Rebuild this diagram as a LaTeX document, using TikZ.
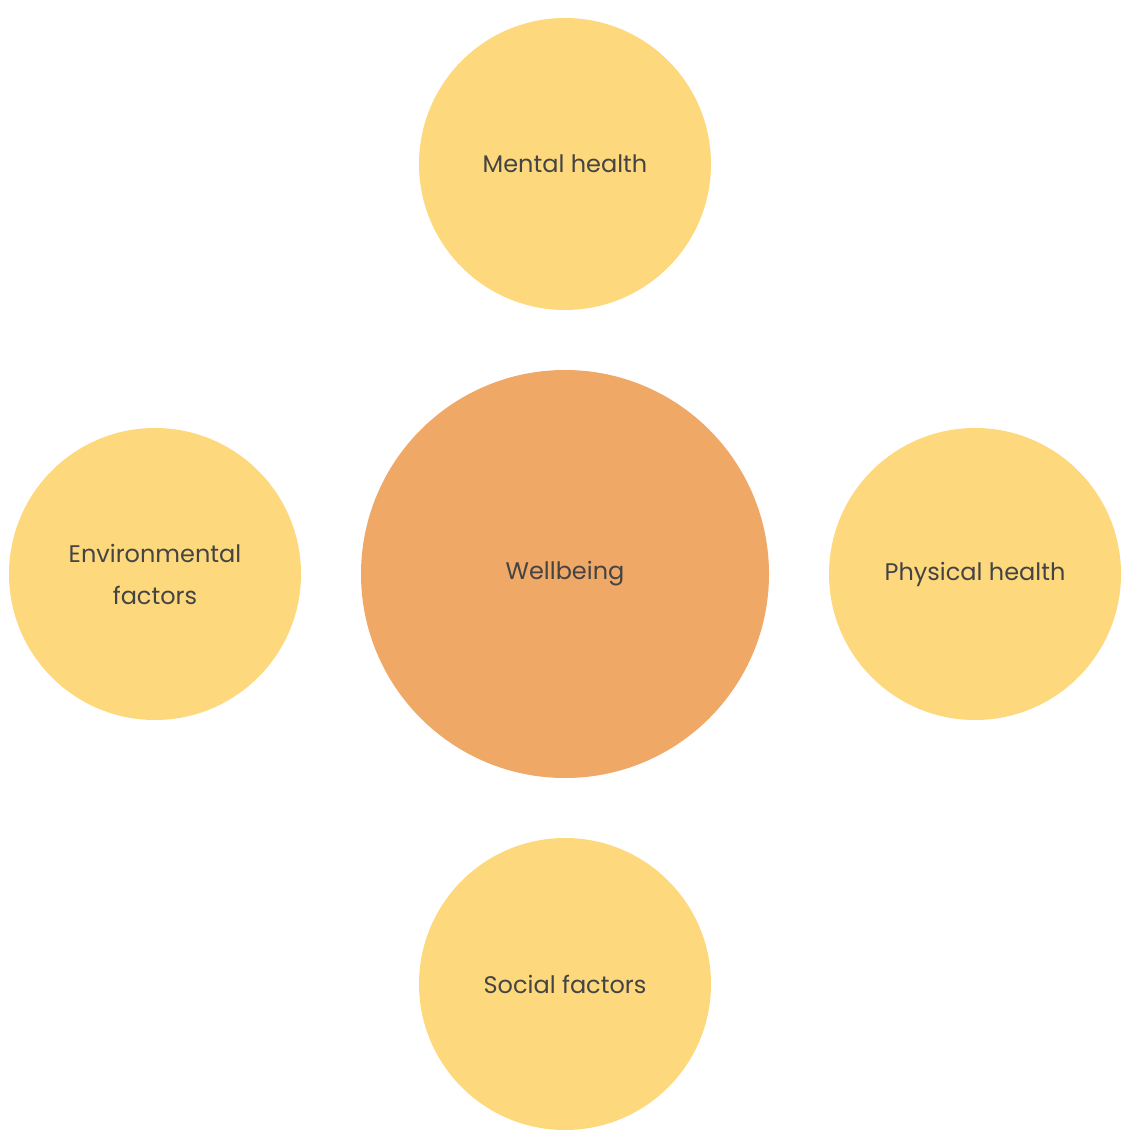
\documentclass[tikz,border=0pt]{standalone}
\usepackage{fontspec}
\setmainfont{Poppins}
\definecolor{yel}{HTML}{FED87C}
\definecolor{org}{HTML}{EFA866}
\definecolor{txt}{HTML}{444444}
\begin{document}
\begin{tikzpicture}[x=1pt,y=-1pt,
  bub/.style={circle,fill=yel,inner sep=0pt,minimum size=292pt,text=txt,align=center,font=\fontsize{24}{42}\selectfont},
  hub/.style={bub,fill=org,minimum size=408pt}]
\useasboundingbox (0,0) rectangle (1135,1139);
\node[hub] (w) at (565,574) {Wellbeing};
\node[bub] (m) at (565,164) {Mental health};
\node[bub] (e) at (155,574) {Environmental\\factors};
\node[bub] (p) at (975,574) {Physical health};
\node[bub] (s) at (565,984) {Social factors};
\end{tikzpicture}
\end{document}
